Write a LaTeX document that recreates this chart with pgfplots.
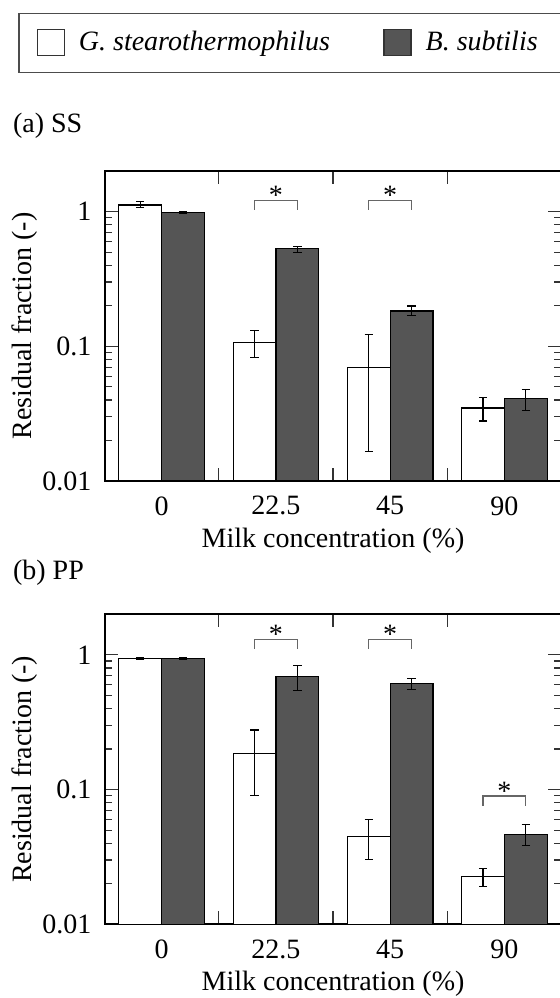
\documentclass[border=0pt]{standalone}
\usepackage{fontspec}
\setmainfont{Liberation Serif}
\usepackage{pgfplots}
\pgfplotsset{compat=1.18}
\usepackage{pgfplotstable}
\definecolor{dk}{RGB}{85,85,85}

% (a) SS
\pgfplotstableread{
x y ep em
-0.1875 1.12 0.06 0.05
0.8125 0.107 0.023 0.025
1.8125 0.0697 0.0523 0.0531
2.8125 0.0348 0.0068 0.0069
}\ssW
\pgfplotstableread{
x y ep em
0.1875 0.99 0.015 0.015
1.1875 0.530 0.023 0.033
2.1875 0.183 0.016 0.015
3.1875 0.0409 0.0071 0.0076
}\ssB
% (b) PP
\pgfplotstableread{
x y ep em
-0.1875 0.945 0.015 0.015
0.8125 0.185 0.092 0.095
1.8125 0.0451 0.0149 0.0149
2.8125 0.0225 0.0034 0.0033
}\ppW
\pgfplotstableread{
x y ep em
0.1875 0.945 0.015 0.015
1.1875 0.693 0.139 0.145
2.1875 0.615 0.055 0.060
3.1875 0.0467 0.0081 0.0080
}\ppB

\pgfplotsset{
  panel/.style={
    scale only axis, width=228.45pt, height=155pt,
    xmin=-0.5, xmax=3.5, ymin=0.01, ymax=2,
    log origin=infty,
    xtick={0.5,1.5,2.5,3.5}, xticklabels={0,22.5,45,90},
    ytick={0.01,0.1,1}, yticklabels={0.01,0.1,1},
    minor ytick={0.02,0.03,0.04,0.05,0.06,0.07,0.08,0.09,0.2,0.3,0.4,0.5,0.6,0.7,0.8,0.9},
    major tick length=6.6pt, minor tick length=3.65pt,
    tick align=inside, xtick pos=both, ytick pos=both,
    tick style={black!80, line width=0.6pt},
    axis line style={black, line width=1pt},
    xticklabel style={inner sep=0pt, anchor=north, yshift=-7.5pt, xshift=-28.56pt},
    yticklabel style={inner sep=0pt, anchor=east, xshift=-6.4pt},
    every axis x label/.style={at={(axis description cs:0.5,-0.2129)}, anchor=base},
    every axis y label/.style={at={(axis description cs:-0.1598,0.5)}, rotate=90, anchor=base},
    xlabel={Milk concentration (\%)}, ylabel={Residual fraction (-)},
  },
  wbar/.style={ybar, bar width=0.375, bar shift=0pt, fill=white, draw=black, line width=0.6pt,
    error bars/y dir=both, error bars/y explicit,
    error bars/error bar style={black, line width=0.55pt},
    error bars/error mark options={rotate=90, black, mark size=2.1pt, line width=0.55pt}},
  bbar/.style={ybar, bar width=0.375, bar shift=0pt, fill=dk, draw=black, line width=0.6pt,
    error bars/y dir=both, error bars/y explicit,
    error bars/error bar style={black, line width=0.55pt},
    error bars/error mark options={rotate=90, black, mark size=2.1pt, line width=0.55pt}},
  brk/.style={black!60, line width=0.65pt, mark=none, forget plot},
}

\begin{document}
\fontsize{14}{17}\selectfont
\begin{tikzpicture}[font=\fontsize{14}{17}\selectfont]
\begin{semilogyaxis}[panel, at={(0pt,0pt)}, anchor=north west,
  title={(a) SS},
  title style={at={(axis description cs:-0.2011,1.0855)}, anchor=base west, inner sep=0pt},
  legend columns=2,
  legend style={at={(-0.1889,1.5106)}, anchor=north west, draw=black!70, line width=0.75pt,
    inner xsep=8.85pt, inner ysep=7.9pt, column sep=7pt, nodes={inner sep=0pt}},
]
\addplot[wbar, legend image code/.code={\draw[fill=white, draw=black!80, line width=0.6pt] (0pt,-6.5pt) rectangle (13.5pt,6.5pt);}]
  table[x=x, y=y, y error plus=ep, y error minus=em] {\ssW};
\addlegendentry{\textit{G. stearothermophilus}\hspace*{19.8pt}}
\addplot[bbar, legend image code/.code={\draw[fill=dk, draw=black!80, line width=0.6pt] (0pt,-6.5pt) rectangle (13.5pt,6.5pt);}]
  table[x=x, y=y, y error plus=ep, y error minus=em] {\ssB};
\addlegendentry{\textit{B. subtilis}\hspace*{3.65pt}}
\addplot[brk] coordinates {(0.8125,1.035) (0.8125,1.21) (1.1875,1.21) (1.1875,1.035)};
\addplot[brk] coordinates {(1.8125,1.035) (1.8125,1.21) (2.1875,1.21) (2.1875,1.035)};
\node[anchor=base, inner sep=0pt] at (axis cs:1,1.13) {*};
\node[anchor=base, inner sep=0pt] at (axis cs:2,1.13) {*};
\end{semilogyaxis}

\begin{semilogyaxis}[panel, at={(0pt,-221.65pt)}, anchor=north west,
  title={(b) PP},
  title style={at={(axis description cs:-0.2011,1.075)}, anchor=base west, inner sep=0pt},
]
\addplot[wbar] table[x=x, y=y, y error plus=ep, y error minus=em] {\ppW};
\addplot[bbar] table[x=x, y=y, y error plus=ep, y error minus=em] {\ppB};
\addplot[brk] coordinates {(0.8125,1.108) (0.8125,1.30) (1.1875,1.30) (1.1875,1.108)};
\addplot[brk] coordinates {(1.8125,1.108) (1.8125,1.30) (2.1875,1.30) (2.1875,1.108)};
\addplot[brk] coordinates {(2.8125,0.0758) (2.8125,0.0897) (3.1875,0.0897) (3.1875,0.0758)};
\node[anchor=base, inner sep=0pt] at (axis cs:1,1.21) {*};
\node[anchor=base, inner sep=0pt] at (axis cs:2,1.21) {*};
\node[anchor=base, inner sep=0pt] at (axis cs:3,0.0828) {*};
\end{semilogyaxis}
\pgfresetboundingbox
\useasboundingbox (-52.3pt,-413.5pt) rectangle (227.7pt,85.5pt);
\end{tikzpicture}
\end{document}
